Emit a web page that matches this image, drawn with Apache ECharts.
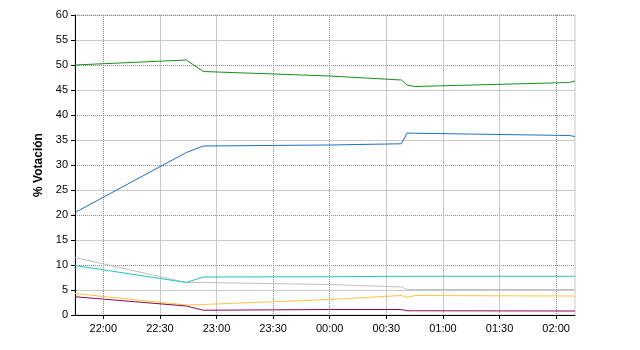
<!DOCTYPE html>
<html><head><meta charset="utf-8">
<script src="https://cdn.jsdelivr.net/npm/echarts@6/dist/echarts.min.js"></script>
<style>html,body{margin:0;padding:0;background:#fff}#c{width:640px;height:350px}</style>
</head><body><div id="c"></div>
<script>
// Sample times (HH:MM, evening then after midnight)
const times  = ['21:45','22:44','22:53','00:00','00:38','00:41','00:45','02:07','02:10'];
const green  = [50.0, 51.0, 48.7, 47.8, 47.0, 46.0, 45.7, 46.5, 46.8];
const blue   = [20.5, 32.5, 33.8, 34.0, 34.25, 36.4, 36.35, 35.9, 35.7];
const cyan   = [9.9, 6.5, 7.6, 7.65, 7.75, 7.7, 7.75, 7.75, 7.75];
const grey   = [11.5, 6.5, 6.5, 6.1, 5.6, 5.1, 5.1, 5.1, 5.1];
const yellow = [4.3, 2.0, 2.1, 3.1, 3.9, 3.5, 3.9, 3.8, 3.8];
const maroon = [3.65, 1.8, 0.95, 1.1, 1.1, 0.85, 0.85, 0.8, 0.8];
const xTickLabels = ['22:00','22:30','23:00','23:30','00:00','00:30','01:00','01:30','02:00'];
const yTicks = [0,5,10,15,20,25,30,35,40,45,50,55,60];
const xStart = '21:45', xEnd = '02:10';
const yTitle = '% Votación';

// minutes since 21:00 of the first evening
function toMin(s){
  const p = s.split(':').map(Number);
  let h = p[0]; if (h < 12) h += 24;
  return (h - 21) * 60 + p[1];
}
function pad(n){ return (n < 10 ? '0' : '') + n; }
function fromMin(v){ const t = Math.round(v) + 21*60; return pad(Math.floor(t/60)%24) + ':' + pad(t%60); }
function pairs(vals){ return times.map((t,i)=>[toMin(t), vals[i]]); }
const xTickVals = xTickLabels.map(toMin);

const G = '#c8c8c8', D = '#8c8c8c', T = 'rgba(0,0,0,0)';
const solidX = [T,G,G,T,T,G,G,G,T];
const dotX   = [D,T,T,D,D,T,T,T,D];

const chart = echarts.init(document.getElementById('c'), null, {renderer:'canvas'});
const font = 'Liberation Sans, Arial, sans-serif';
function mk(name, vals, color){
  return {name, type:'line', data:pairs(vals), symbol:'none', showSymbol:false,
    lineStyle:{color, width:1}, itemStyle:{color}, animation:false, z:3};
}
chart.setOption({
  animation:false,
  grid:{left:75, right:65, top:15, bottom:35, show:true, borderColor:G, borderWidth:1, backgroundColor:'#fff'},
  xAxis:[{
    type:'value', min:toMin(xStart), max:toMin(xEnd),
    axisLine:{lineStyle:{color:'#000', width:1}},
    axisTick:{show:true, length:4, lineStyle:{color:'#000'}, customValues:xTickVals},
    axisLabel:{color:'#000', fontSize:11, fontFamily:font, margin:8, customValues:xTickVals,
      formatter:function(v){return fromMin(v);}},
    splitLine:{show:true, lineStyle:{color:solidX, width:1, type:'solid'}}
  },{
    type:'value', min:toMin(xStart), max:toMin(xEnd), position:'bottom',
    axisLine:{show:false}, axisTick:{show:false, customValues:xTickVals},
    axisLabel:{show:false, customValues:xTickVals},
    splitLine:{show:true, lineStyle:{color:dotX, width:1, type:[1,1]}}
  }],
  yAxis:[{
    type:'value', min:yTicks[0], max:yTicks[yTicks.length-1], interval:5,
    name:yTitle, nameLocation:'middle', nameRotate:90, nameGap:21,
    nameTextStyle:{color:'#000', fontSize:12, fontWeight:'bold', fontFamily:font},
    axisLine:{show:true, lineStyle:{color:'#000', width:1}},
    axisTick:{show:true, length:4, lineStyle:{color:'#000'}},
    axisLabel:{color:'#000', fontSize:11, fontFamily:font, margin:7},
    splitLine:{show:true, lineStyle:{color:[T,G], width:1, type:'solid'}}
  },{
    type:'value', min:0, max:60, interval:10, position:'left',
    axisLine:{show:false}, axisTick:{show:false}, axisLabel:{show:false},
    splitLine:{show:true, lineStyle:{color:D, width:1, type:[1,1]}}
  }],
  series:[
    mk('Otros', grey, '#c0c0c0'),
    mk('C', cyan, '#1ec4c4'),
    mk('Y', yellow, '#ffc244'),
    mk('M', maroon, '#8a0a48'),
    mk('B', blue, '#1f6fc6'),
    mk('G', green, '#189018')
  ]
});
</script></body></html>
